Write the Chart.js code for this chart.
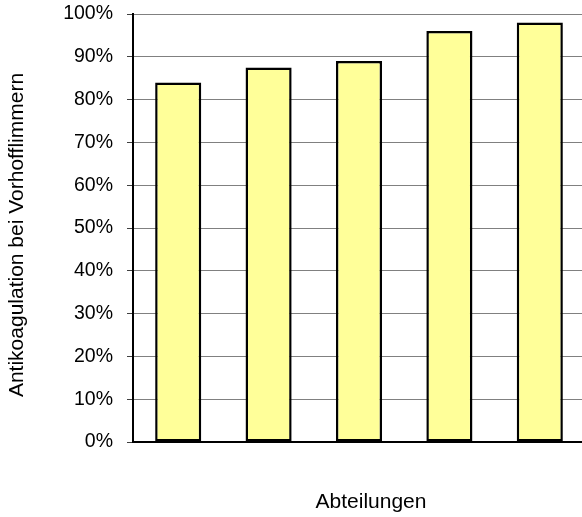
<!DOCTYPE html>
<html>
<head>
<meta charset="utf-8">
<script src="https://cdn.jsdelivr.net/npm/chart.js@4/dist/chart.umd.min.js"></script>
<style>
  html, body { margin: 0; padding: 0; background: #fff; overflow: hidden; }
  #wrap { width: 585px; height: 517px; }
</style>
</head>
<body>
<div id="wrap"><canvas id="c" width="585" height="517"></canvas></div>
<script>
const categories = ['Abteilung 1', 'Abteilung 2', 'Abteilung 3', 'Abteilung 4', 'Abteilung 5'];
const values = [0.84, 0.875, 0.89, 0.96, 0.98];
const yTicks = [0, 0.1, 0.2, 0.3, 0.4, 0.5, 0.6, 0.7, 0.8, 0.9, 1.0];
const xTitle = 'Abteilungen';
const yTitle = 'Antikoagulation bei Vorhofflimmern';

const FONT = '"Liberation Sans", Arial, sans-serif';

const titlePlugin = {
  id: 'axisTitles',
  afterDraw(chart) {
    const ctx = chart.ctx;
    const a = chart.chartArea;
    ctx.save();
    ctx.fillStyle = '#000';
    ctx.font = '21px ' + FONT;
    ctx.textAlign = 'center';
    ctx.textBaseline = 'middle';
    ctx.fillText(xTitle, a.left + 238, a.bottom + 60);
    ctx.translate(17, a.top + 221);
    ctx.rotate(-Math.PI / 2);
    ctx.fillText(yTitle, 0, 0);
    ctx.restore();
  }
};

new Chart(document.getElementById('c'), {
  type: 'bar',
  data: {
    labels: categories,
    datasets: [{
      data: values,
      backgroundColor: '#FFFF99',
      borderColor: '#000000',
      borderWidth: 2.5,
      borderSkipped: false,
      barPercentage: 1,
      categoryPercentage: 0.51
    }]
  },
  options: {
    responsive: false,
    animation: false,
    devicePixelRatio: 1,
    layout: { padding: { top: 14, left: 0, right: 0, bottom: 0 } },
    plugins: { legend: { display: false }, tooltip: { enabled: false }, title: { display: false } },
    scales: {
      x: {
        grid: { display: false, drawTicks: false },
        border: { display: true, color: '#000', width: 2 },
        ticks: { display: false },
        afterFit(scale) { scale.height = 75; scale.paddingLeft = 0; scale.paddingRight = 0; }
      },
      y: {
        min: 0,
        max: 1,
        afterBuildTicks(scale) { scale.ticks = yTicks.map(v => ({ value: v })); },
        grid: { color: '#808080', lineWidth: 1, tickLength: 6, tickColor: '#404040' },
        border: { display: true, color: '#000', width: 2 },
        ticks: {
          padding: 14,
          color: '#000',
          font: { family: FONT, size: 19.5 },
          callback: v => Math.round(v * 100) + '%'
        },
        afterFit(scale) { scale.width = 133; scale.paddingTop = 0; scale.paddingBottom = 0; }
      }
    }
  },
  plugins: [titlePlugin]
});
</script>
</body>
</html>
